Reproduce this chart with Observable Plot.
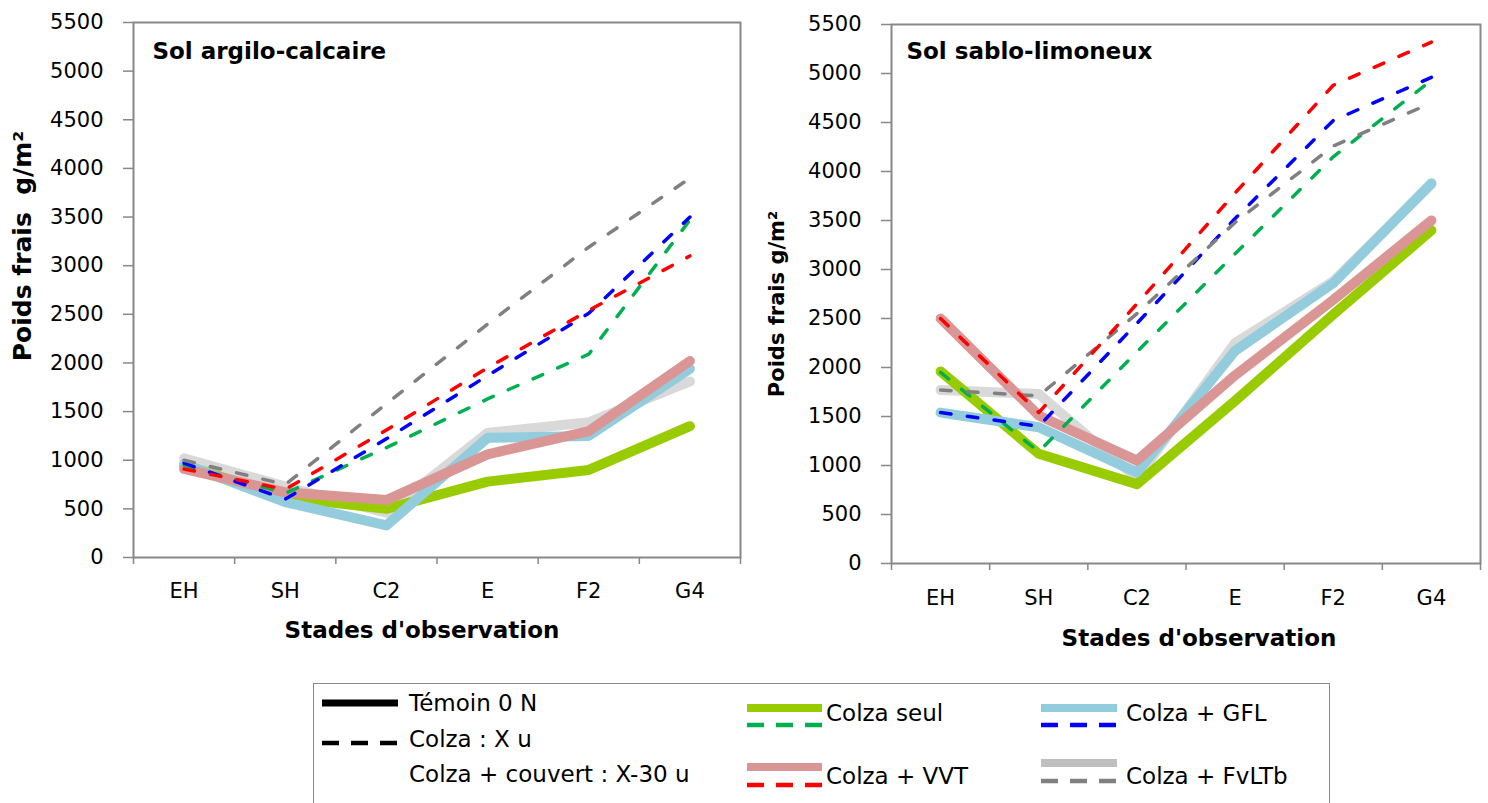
<!DOCTYPE html>
<html>
<head>
<meta charset="utf-8">
<script src="https://cdn.jsdelivr.net/npm/d3@7"></script>
<script src="https://cdn.jsdelivr.net/npm/@observablehq/plot@0.6"></script>
<style>
html, body { margin: 0; padding: 0; background: #fff; overflow: hidden; width: 1488px; height: 803px; font-family: "DejaVu Sans", sans-serif; }
#left { position: absolute; left: 0; top: 0; }
#right { position: absolute; left: 745px; top: 0; }
#legendBox { position: absolute; left: 313px; top: 683px; width: 1017px; height: 160px; border: 1.5px solid #8a8a8a; box-sizing: border-box; }
.lg { position: absolute; font-size: 23px; line-height: 26px; height: 26px; color: #000; white-space: nowrap; }
.sw { position: absolute; overflow: visible; }
</style>
</head>
<body>
<div id="left"></div>
<div id="right"></div>
<div id="legendBox"></div>
<script>
// ---------- categories & labels ----------
const stages = ["EH", "SH", "C2", "E", "F2", "G4"];
const yTicks = [0, 500, 1000, 1500, 2000, 2500, 3000, 3500, 4000, 4500, 5000, 5500];
const xTitle = "Stades d'observation";
const titleAC = "Sol argilo-calcaire";
const titleSL = "Sol sablo-limoneux";
const yTitleAC = "Poids frais  g/m²";
const yTitleSL = "Poids frais g/m²";
const seriesNames = ["Colza seul", "Colza + GFL", "Colza + VVT", "Colza + FvLTb"];
const legendTexts = ["Témoin 0 N", "Colza : X u", "Colza + couvert : X-30 u"];

// ---------- Sol argilo-calcaire : témoin 0 N (solid) ----------
const acSeul0  = [950, 620, 500, 780, 900, 1350];
const acGFL0   = [960, 570, 330, 1230, 1250, 1940];
const acVVT0   = [910, 670, 590, 1060, 1300, 2020];
const acFvLTb0 = [1020, 730, 460, 1280, 1390, 1810];
// ---------- Sol argilo-calcaire : dose X (dashed) ----------
const acSeulX  = [950, 660, 1130, 1630, 2090, 3470];
const acGFLX   = [970, 600, 1220, 1870, 2510, 3500];
const acVVTX   = [910, 700, 1310, 1950, 2540, 3100];
const acFvLTbX = [1000, 750, 1580, 2400, 3190, 3900];

// ---------- Sol sablo-limoneux : témoin 0 N (solid) ----------
const slSeul0  = [1960, 1120, 810, 1660, 2540, 3400];
const slGFL0   = [1540, 1390, 930, 2170, 2860, 3880];
const slVVT0   = [2500, 1510, 1050, 1920, 2690, 3500];
const slFvLTb0 = [1770, 1730, 870, 2250, 2880, 3870];
// ---------- Sol sablo-limoneux : dose X (dashed) ----------
const slSeulX  = [1950, 1140, 2160, 3160, 4150, 4930];
const slGFLX   = [1540, 1400, 2450, 3520, 4520, 4960];
const slVVTX   = [2500, 1540, 2650, 3780, 4880, 5320];
const slFvLTbX = [1770, 1710, 2550, 3480, 4260, 4700];

// ---------- colours ----------
const solidColors = {"Colza seul": "#99cc00", "Colza + GFL": "#93cddd", "Colza + VVT": "#d99694", "Colza + FvLTb": "#d9d9d9"};
const dashColors  = {"Colza seul": "#00b050", "Colza + GFL": "#0000ff", "Colza + VVT": "#ff0000", "Colza + FvLTb": "#808080"};
const legendGrey = "#bfbfbf";
const axisColor = "#888888";

const solidOrder = ["Colza + FvLTb", "Colza seul", "Colza + GFL", "Colza + VVT"];
const dashOrder = ["Colza seul", "Colza + GFL", "Colza + FvLTb", "Colza + VVT"];

function rows(values) { return values.map((v, i) => ({i, v})); }

function panel(cfg) {
  const marks = [];
  for (const k of solidOrder) {
    marks.push(Plot.line(rows(cfg.solid[k]), {x: "i", y: "v", stroke: solidColors[k], strokeWidth: 10, strokeLinecap: "round", strokeLinejoin: "round"}));
  }
  for (const k of dashOrder) {
    marks.push(Plot.line(rows(cfg.dash[k]), {x: "i", y: "v", stroke: dashColors[k], strokeWidth: 3.5, strokeDasharray: "10.5,16.5", strokeLinecap: "round", strokeLinejoin: "round"}));
  }
  const bounds = d3.range(-0.5, stages.length, 1);
  return Plot.plot({
    width: cfg.width, height: cfg.height,
    marginLeft: cfg.ml, marginRight: cfg.mr, marginTop: cfg.mt, marginBottom: cfg.mb,
    style: {fontFamily: "DejaVu Sans", fontSize: "21px", background: "transparent", color: "#000"},
    x: {domain: [-0.5, stages.length - 0.5]},
    y: {domain: [0, 5500]},
    marks: [
      Plot.axisY(yTicks, {tickSize: 10, tickPadding: 20, tickFormat: d => String(d), stroke: axisColor, strokeWidth: 1.5, fontSize: 21, label: null}),
      Plot.axisX(bounds, {tickSize: 7, tickFormat: () => "", stroke: axisColor, strokeWidth: 1.5, label: null}),
      Plot.axisX(stages.map((s, i) => i), {tickSize: 0, tickPadding: cfg.tickPad, tickFormat: i => stages[i], fontSize: 21, label: null}),
      ...marks,
      Plot.frame({stroke: axisColor, strokeWidth: 2}),
      Plot.text([cfg.title], {text: d => d, frameAnchor: "top-left", textAnchor: "start", lineAnchor: "top", dx: cfg.tdx, dy: cfg.tdy, fontWeight: "bold", fontSize: 23}),
      Plot.text([xTitle], {text: d => d, frameAnchor: "bottom", textAnchor: "middle", lineAnchor: "middle", dx: cfg.xdx, dy: cfg.xdy, fontWeight: "bold", fontSize: 23}),
      Plot.text([cfg.yTitle], {text: d => d, frameAnchor: "left", textAnchor: "middle", rotate: -90, lineAnchor: "middle", dx: cfg.ydx, dy: cfg.ydy, fontWeight: "bold", fontSize: cfg.yfs})
    ]
  });
}

const left = panel({
  width: 760, height: 660, ml: 133, mr: 20, mt: 22, mb: 103, tickPad: 26,
  title: titleAC, tdx: 19, tdy: 20,
  xdx: -15, xdy: 73,
  yTitle: yTitleAC, ydx: -111, ydy: -44, yfs: 25,
  solid: {"Colza seul": acSeul0, "Colza + GFL": acGFL0, "Colza + VVT": acVVT0, "Colza + FvLTb": acFvLTb0},
  dash: {"Colza seul": acSeulX, "Colza + GFL": acGFLX, "Colza + VVT": acVVTX, "Colza + FvLTb": acFvLTbX}
});
document.getElementById("left").appendChild(left);

const right = panel({
  width: 743, height: 660, ml: 146, mr: 8, mt: 24, mb: 97, tickPad: 27,
  title: titleSL, tdx: 15, tdy: 18,
  xdx: 13, xdy: 75,
  yTitle: yTitleSL, ydx: -114, ydy: 10, yfs: 21,
  solid: {"Colza seul": slSeul0, "Colza + GFL": slGFL0, "Colza + VVT": slVVT0, "Colza + FvLTb": slFvLTb0},
  dash: {"Colza seul": slSeulX, "Colza + GFL": slGFLX, "Colza + VVT": slVVTX, "Colza + FvLTb": slFvLTbX}
});
document.getElementById("right").appendChild(right);

// ---------- legend ----------
function swatch(x, y, w, color, sw, dash) {
  const ns = "http://www.w3.org/2000/svg";
  const svg = document.createElementNS(ns, "svg");
  svg.setAttribute("class", "sw");
  svg.setAttribute("width", w);
  svg.setAttribute("height", 14);
  svg.style.left = x + "px";
  svg.style.top = (y - 7) + "px";
  const line = document.createElementNS(ns, "line");
  line.setAttribute("x1", 0); line.setAttribute("x2", w);
  line.setAttribute("y1", 7); line.setAttribute("y2", 7);
  line.setAttribute("stroke", color);
  line.setAttribute("stroke-width", sw);
  if (dash) line.setAttribute("stroke-dasharray", dash);
  svg.appendChild(line);
  document.body.appendChild(svg);
}
function label(x, y, txt) {
  const d = document.createElement("div");
  d.className = "lg";
  d.style.left = x + "px";
  d.style.top = (y - 13) + "px";
  d.textContent = txt;
  document.body.appendChild(d);
}
const legDash = "17,12";
swatch(322, 703, 76, "#000", 7, null);
swatch(322, 743, 76, "#000", 4.5, legDash);
label(409, 703, legendTexts[0]);
label(409, 739, legendTexts[1]);
label(409, 774, legendTexts[2]);

swatch(747, 708, 75, solidColors["Colza seul"], 8, null);
swatch(747, 725, 75, dashColors["Colza seul"], 4.5, legDash);
label(826, 713, seriesNames[0]);
swatch(747, 767, 75, solidColors["Colza + VVT"], 8, null);
swatch(747, 785, 75, dashColors["Colza + VVT"], 4.5, legDash);
label(826, 776, seriesNames[2]);

swatch(1041, 708, 76, solidColors["Colza + GFL"], 8, null);
swatch(1041, 725, 76, dashColors["Colza + GFL"], 4.5, legDash);
label(1126, 713, seriesNames[1]);
swatch(1041, 763, 76, legendGrey, 8, null);
swatch(1041, 781, 76, dashColors["Colza + FvLTb"], 4.5, legDash);
label(1126, 776, seriesNames[3]);
</script>
</body>
</html>
